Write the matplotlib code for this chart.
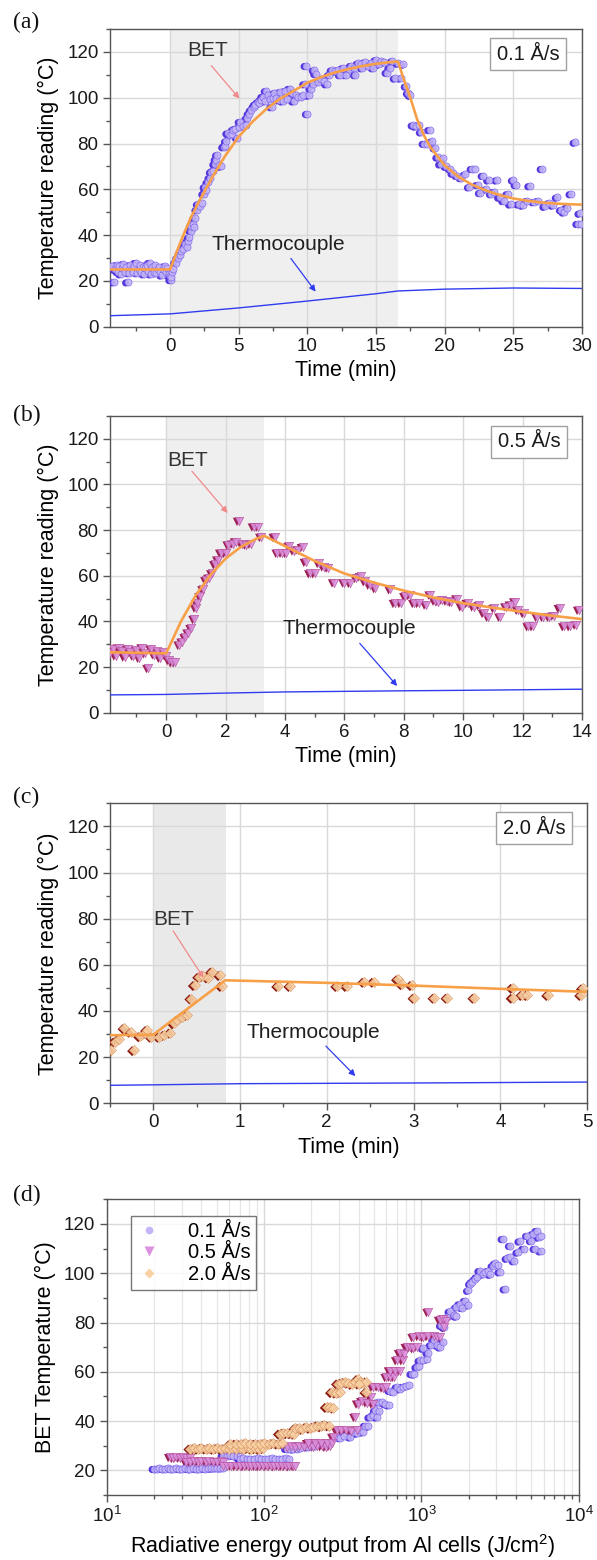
import matplotlib
matplotlib.use('Agg')
import matplotlib.pyplot as plt
from matplotlib import transforms
from matplotlib.ticker import MultipleLocator, LogLocator, NullFormatter, FixedLocator
from matplotlib.lines import Line2D

plt.rcParams['font.family'] = ['Liberation Sans', 'DejaVu Sans']
plt.rcParams['mathtext.fontset'] = 'custom'
plt.rcParams['mathtext.rm'] = 'Liberation Sans'
plt.rcParams['mathtext.it'] = 'Liberation Sans:italic'
plt.rcParams['mathtext.bf'] = 'Liberation Sans:bold'

# ---------------- Panel (a): 0.1 A/s ----------------
A_TIME = [-4.2, -4.1, -4.0, -3.9, -3.8, -3.7, -3.6, -3.5, -3.4, -3.3, -3.2, -3.1, -3.0, -2.9, -2.8,
          -2.7, -2.6, -2.5, -2.4, -2.3, -2.2, -2.1, -2.0, -1.9, -1.8, -1.7, -1.6, -1.5, -1.4, -1.3,
          -1.2, -1.1, -1.0, -0.9, -0.8, -0.7, -0.6, -0.5, -0.4, -0.3, -0.2, -0.1,
          0.0, 0.05, 0.1, 0.15, 0.2,
          0.4, 0.55, 0.7, 0.8, 0.95, 1.1, 1.2, 1.3, 1.4, 1.5, 1.55, 1.65, 1.75, 1.8, 1.95, 2.05, 2.15,
          2.3, 2.45, 2.55, 2.6, 2.75, 2.9, 3.0, 3.1, 3.25, 3.35, 3.45, 3.55, 3.7, 3.9, 4.0, 4.1, 4.2,
          4.35, 4.5, 4.6, 4.75, 4.9, 5.0, 5.1, 5.3, 5.5, 5.6, 5.75, 5.9, 6.1, 6.2, 6.4, 6.5, 6.6, 6.75,
          6.9, 7.0, 7.15, 7.3, 7.4, 7.5, 7.6, 7.75, 7.9, 8.0, 8.2, 8.4, 8.5, 8.7, 8.85, 9.0, 9.2, 9.35,
          9.5, 9.7, 9.8, 9.9, 10.0, 10.1, 10.25, 10.4, 10.5, 10.6, 10.8, 11.0, 11.2, 11.4, 11.6, 11.8,
          12.0, 12.2, 12.4, 12.6, 12.8, 13.0, 13.2, 13.4, 13.5, 13.7, 13.9, 14.0, 14.2, 14.4, 14.6,
          14.8, 15.0, 15.2, 15.4, 15.6, 15.8, 16.0, 16.2, 16.4, 16.6, 16.8, 17.0, 17.2, 17.35, 17.5,
          17.7, 17.9, 18.1, 18.3, 18.5, 18.7, 18.9, 19.1, 19.3, 19.5, 19.7, 19.9, 20.1, 20.4, 20.6,
          20.9, 21.2, 21.5, 21.8, 22.0, 22.2, 22.4, 22.6, 22.8, 23.0, 23.2, 23.4, 23.6, 23.8, 24.0,
          24.3, 24.6, 24.8, 25.0, 25.2, 25.4, 25.7, 26.0, 26.2, 26.5, 26.8, 27.1, 27.3, 27.6, 27.9,
          28.2, 28.5, 28.7, 28.9, 29.2, 29.5, 29.7, 29.85, 29.9]
A_TEMP = [26.5, 19.5, 25, 27, 24, 26.5, 23, 25.5, 27.5, 24, 26, 19.5, 23.5, 27, 25,
          24, 26.5, 28, 23.5, 25, 27, 24, 26, 23, 25.5, 27, 24.5, 28, 23, 26,
          24, 27, 23.5, 25, 26, 24, 22.5, 25, 26.5, 24, 25.5, 23,
          22, 20.5, 21.5, 24, 25,
          28, 30, 31.5, 33, 34, 36, 35, 37.5, 39, 42, 44, 45, 43.5, 47.5, 51, 53.5, 52.5,
          54, 58, 61, 59.5, 63, 65, 67.5, 68, 71, 73, 75, 70.5, 70, 78.5, 79, 81, 84.5,
          83.5, 84, 86, 86.5, 82.5, 87, 89.5, 87.5, 88, 91, 93, 94.5, 96, 97, 98, 97.5, 99, 100.5,
          98.5, 103, 101, 99.5, 96, 100, 102, 100, 99, 102.5, 98.5, 103, 99.5, 104, 102, 98.5, 101, 100.5,
          100.5, 101, 106, 114, 93, 101, 104, 106, 112, 110.5, 107, 108, 107.5, 106, 110, 112,
          111.5, 112, 110, 113, 110, 112.5, 114, 113, 110, 115, 114.5, 113, 115.5, 114, 115,
          113, 116.5, 114.5, 116, 115.5, 111, 113, 116, 108.5, 115, 108.5, 114.5, 105, 102, 101,
          88, 87.5, 88, 85, 80, 80, 86, 81, 78, 74, 71, 73.5, 70, 69, 67,
          66, 65, 66.5, 61, 69, 69, 62, 58.5, 66, 60, 64, 58, 59, 64, 56.5,
          55, 58, 53.5, 64, 62, 53.5, 53, 55, 61.5, 54.5, 55, 69, 52.5, 54, 53,
          56.5, 51, 50, 52, 58, 80.5, 45, 49.5, 45]
A_FIT_T = [-4.4, 0.0, 0.5, 1.0, 1.5, 2.0, 3.0, 4.0, 5.0, 6.0, 7.0, 8.0, 9.0, 10.0, 11.0, 12.0, 13.0,
           14.0, 15.0, 16.0, 16.6, 17.0, 17.5, 18.0, 18.5, 19.0, 20.0, 21.0, 22.0, 23.0, 24.0, 25.0,
           26.0, 27.0, 28.0, 29.0, 30.0]
A_FIT_Y = [25.0, 25.0, 33.0, 40.5, 47.5, 53.5, 64.5, 74.5, 83.0, 89.5, 95.0, 99.5, 103.0, 106.5, 109.0,
           111.0, 112.5, 113.8, 114.8, 115.5, 115.8, 108.5, 100.0, 90.5, 83.5, 78.0, 70.5, 65.5, 62.0,
           59.5, 57.5, 56.0, 55.0, 54.3, 53.8, 53.5, 53.3]
A_TC_T = [-4.4, 0.0, 5.0, 10.0, 15.0, 16.6, 20.0, 25.0, 30.0]
A_TC_Y = [4.8, 5.6, 8.2, 11.2, 14.4, 15.6, 16.4, 16.9, 16.7]

# ---------------- Panel (b): 0.5 A/s ----------------
B_TIME = [-1.9, -1.8, -1.7, -1.6, -1.5, -1.4, -1.3, -1.2, -1.1, -1.0, -0.9, -0.8, -0.7, -0.6, -0.5,
          -0.4, -0.3, -0.2, -0.1, 0.0, 0.1, 0.2, 0.3,
          0.45, 0.55, 0.65, 0.75, 0.85, 0.95, 1.0, 1.05, 1.15, 1.25, 1.35, 1.45, 1.55, 1.65, 1.75,
          1.85, 2.0, 2.1, 2.25, 2.35, 2.45, 2.55, 2.7, 2.85, 2.95, 3.1, 3.2,
          3.65, 3.75, 3.9, 4.05, 4.15, 4.3, 4.45, 4.6, 4.7, 4.85, 5.0, 5.15, 5.3, 5.45, 5.65, 6.0,
          6.2, 6.4, 6.55, 6.7, 6.85, 7.05, 7.55, 7.7, 7.9, 8.05, 8.2, 8.35, 8.5, 8.75, 8.9, 9.05,
          9.15, 9.3, 9.45, 9.6, 9.8, 9.95, 10.15, 10.35, 10.55, 10.7, 10.85, 11.05, 11.25, 11.45,
          11.6, 11.75, 11.85, 12.05, 12.2, 12.35, 12.5, 12.7, 12.9, 13.05, 13.25, 13.4, 13.6, 13.8, 13.9]
B_TEMP = [26, 28, 25, 28.5, 27, 24.5, 28, 26.5, 25, 27.5, 24, 28.5, 26, 19.5, 28,
          25.5, 27, 24, 26.5, 25, 23, 22, 22,
          29.7, 31, 33, 35, 37, 41, 46, 48, 51, 54, 58, 59, 61, 65, 67,
          70, 70, 73.6, 74, 75, 84, 74, 73.6, 74, 81.5, 81.5, 77,
          77, 70, 70, 70, 73, 71, 71.5, 72.5, 66, 61, 61, 65.5, 64, 63.5, 57, 57,
          56.8, 59, 59.7, 57.5, 56, 54.5, 54, 48, 48, 51, 51.5, 48, 48, 47.3, 51.7, 49,
          48.7, 49.5, 49, 48.5, 50, 46.5, 48, 46.5, 47, 43.6, 42, 45.8, 42, 46.5,
          47.3, 48.7, 45, 43.6, 37.8, 37.8, 42, 42, 42, 42.5, 45.8, 37.8, 37.8, 38.5, 45]
B_FIT_T = [-1.9, 0.0, 0.5, 1.0, 1.5, 2.0, 2.5, 3.0, 3.3, 4.0, 5.0, 6.0, 7.0, 8.0, 9.0, 10.0, 11.0,
           12.0, 13.0, 14.0]
B_FIT_Y = [26.5, 26.0, 40.0, 51.5, 60.5, 67.5, 72.5, 76.0, 77.5, 73.0, 66.5, 61.0, 57.0, 53.5, 50.5,
           48.0, 46.0, 44.2, 42.5, 41.0]
B_TC_T = [-1.9, 0.0, 2.0, 4.0, 8.0, 10.0, 14.0]
B_TC_Y = [7.8, 8.0, 8.6, 9.1, 9.6, 9.8, 10.3]

# ---------------- Panel (c): 2.0 A/s ----------------
C_TIME = [-0.48, -0.44, -0.39, -0.33, -0.26, -0.22, -0.15, -0.09, -0.07, -0.02,
          0.07, 0.13, 0.2, 0.24, 0.28, 0.33, 0.39, 0.44, 0.48, 0.53, 0.57, 0.63, 0.68, 0.77, 0.79,
          1.44, 1.58, 2.12, 2.23, 2.43, 2.54, 2.82, 2.87, 2.98, 3.01, 3.24, 3.39, 3.7, 4.14, 4.14,
          4.25, 4.31, 4.55, 4.95, 4.93]
C_TEMP = [23, 26.7, 28, 32.5, 31, 23, 29, 30.3, 31.7, 28.8,
          28.8, 29.6, 30.6, 34.6, 36, 37.2, 38.2, 45.4, 51.2, 54.8, 55, 54.5, 57, 55.5, 50.8,
          50.8, 50.8, 50.8, 50.8, 52.6, 52.6, 53.7, 51.6, 51.2, 45.7, 45.7, 45.7, 45.7, 50, 45.7,
          46.9, 46.9, 46.9, 49.8, 46.9]
C_FIT_T = [-0.5, 0.0, 0.83, 2.0, 3.0, 4.0, 5.0]
C_FIT_Y = [29.5, 29.7, 53.3, 52.2, 51.0, 49.6, 48.3]
C_TC_T = [-0.5, 0.0, 1.0, 3.0, 5.0]
C_TC_Y = [7.8, 8.0, 8.5, 8.8, 9.2]

# ---------------- Panel (d): BET temperature vs radiative energy ----------------
D01_E = [20, 20.8, 21.6, 22.5, 23.4, 24.4, 25.4, 26.5, 27.6, 28.8, 30, 31.3, 32.7, 34.1, 35.6, 37.2,
         38.8, 40.5, 42.3, 44.2, 46.2, 48.3, 50.5, 52.8, 55,
         55, 58, 61, 64, 67, 70,
         70, 74, 78, 82, 86, 91, 96, 101, 106, 112, 118, 124, 130, 137, 144,
         139, 146, 153, 161, 169,
         190, 210, 240, 262, 289, 305, 320, 354, 367, 390, 410, 425, 440, 460, 470, 495, 520, 510,
         540, 530, 560, 590, 620, 630, 660, 700, 730, 760, 800, 840, 870, 900, 935, 960, 980, 1030,
         1080, 1030, 1100, 1150, 1200, 1260, 1320, 1370, 1340, 1400, 1450, 1520, 1600, 1670, 1670,
         1750, 1820, 1900, 1980, 1990, 2050, 2100, 2190, 2250, 2350, 2450, 2550, 2640, 2740, 2850,
         2950, 3050, 3150, 3300, 3400, 3500, 3650, 3672, 3880, 4100, 4220, 4460, 4720, 4990, 5130,
         5270, 5420, 5580, 5730, 5750]
D01_T = [20.7, 20.6, 20.8, 20.7, 20.6, 20.8, 20.7, 20.6, 20.8, 20.7, 20.6, 20.8, 20.7, 20.6, 20.8, 20.7,
         20.6, 20.8, 20.7, 20.9, 20.8, 20.9, 21.0, 20.9, 21.0,
         26.0, 25.8, 26.2, 26.0, 25.8, 26.0,
         24.7, 24.9, 24.7, 24.8, 24.7, 24.9, 24.7, 24.8, 24.7, 24.9, 24.7, 24.8, 24.7, 24.9, 24.7,
         28.8, 28.8, 28.6, 28.8, 28.9,
         29.5, 30, 30.8, 31, 33.5, 33.2, 34, 33.5, 35.5, 35, 36.2, 35.5, 38.2, 37.8, 41.6, 42.5, 41.6, 44.3,
         44, 47.7, 47.7, 47, 46.5, 52.4, 52, 53.8, 53, 54, 54.2, 54.5, 59.2, 59, 61.9, 62.5, 64.6, 64.6,
         65, 69.5, 67.7, 70.8, 72.7, 70.8, 70, 72, 78.8, 78, 82.1, 84.5, 83, 82.5, 86.2,
         87.5, 86, 88.9, 87, 93, 95.7, 96.5, 97.5, 98.4, 101, 99.5, 100.5, 101, 99.5, 103,
         104, 103.5, 100.5, 114, 93.6, 106, 106.5, 111.2, 105, 108.5, 113, 110, 115.3, 113.2, 116,
         110, 117.3, 114.6, 109, 115.3]

D05_E = [25.3, 26.5, 27.8, 29.1, 30.5, 32, 33.8,
         32, 34, 36, 38, 40, 42.5, 45, 47.6, 50.3, 53.2, 55,
         55, 58, 62, 66, 70, 74.4, 79, 83, 88, 93, 98, 104, 110, 116, 123, 130, 137, 145, 153, 157,
         139, 148, 158, 168, 180, 192, 205, 218, 232, 247, 262,
         190, 210, 230, 250, 270,
         275, 290, 310, 330, 355, 388, 380, 395, 420, 450, 475, 491, 491, 530, 570, 600, 600, 635,
         670, 630, 680, 730, 700, 760, 730, 770, 805, 850, 890, 935, 890, 960, 1030, 1100, 1106,
         1200, 1250, 1310, 1310, 1380, 1440, 1400]
D05_T = [25.3, 25.0, 25.3, 25.1, 25.3, 25.0, 25.2,
         23.5, 23.2, 23.8, 23.5, 24.0, 23.4, 23.6, 23.2, 23.5, 23.8, 23.4,
         21.8, 21.6, 21.9, 21.7, 21.8, 21.6, 21.9, 21.7, 21.8, 21.6, 21.9, 21.7, 21.8, 21.6, 21.9,
         21.7, 21.8, 21.6, 21.9, 21.7,
         29.5, 29.8, 29.6, 30.0, 29.5, 29.8, 29.6, 30.0, 29.7, 29.5, 29.8,
         31.0, 31.3, 31.0, 31.3, 31.0,
         33.5, 36.2, 36.5, 36.2, 36.0, 36.5, 41.6, 47.0, 48.0, 47.5, 49.7, 47.0, 53.8, 54.0, 53.5,
         53.8, 57.8, 58.0, 57.8, 60.5, 60.5, 60.2, 64.6, 64.6, 67.5, 67.3, 70.0, 70.0, 69.5, 70.0,
         74.0, 74.4, 74.0, 74.4, 84.2, 74.4, 74.2, 74.0, 81.0, 81.5, 80.5, 78.0]

D20_E = [34, 36, 38, 40, 42.5, 45, 47.6, 50.3, 53.2, 56.3, 59.5, 63, 66.5, 70, 74, 78.6, 83, 88, 93, 99,
         61, 66, 71, 76, 82, 88, 94, 100, 107, 114, 122, 130,
         126, 133, 140, 148, 155,
         158, 166, 175, 185, 195, 205, 218, 230, 242, 257,
         250, 262, 275, 270, 285, 303,
         295, 310, 325, 340, 360, 380, 395, 405, 425, 447, 447, 400]
D20_T = [28.8, 28.9, 28.7, 29.0, 28.8, 28.9, 28.7, 29.0, 28.8, 28.9, 28.7, 29.0, 28.8, 28.9, 28.7,
         29.0, 28.8, 28.9, 28.7, 29.0,
         30.5, 30.8, 30.6, 30.9, 30.5, 30.8, 30.6, 30.9, 30.7, 31.0, 30.8, 31.0,
         34.9, 35.2, 35.0, 35.0, 34.8,
         37.0, 37.2, 36.8, 37.5, 37.2, 37.6, 38.2, 37.8, 38.4, 38.2,
         45.7, 45.7, 45.4, 51.7, 51.5, 51.7,
         55.2, 55.5, 55.8, 55.5, 55.0, 55.8, 57.0, 56.0, 55.5, 56.0, 51.7, 55.2]

RATE_LABELS = ['0.1 Å/s', '0.5 Å/s', '2.0 Å/s']

# ---------------- styling ----------------
W, H = 597, 1560
fig = plt.figure(figsize=(W / 100, H / 100), dpi=100)

SPINE = '#555555'
GRID = '#d9d9d9'
FIT = '#f7a048'
TC = '#2f3cf0'
BET_ARROW = '#f08a8a'

# (front fill, front edge, shadow)
CIRC = ('#c3b5f7', '#7a60ea', '#5536dc')
TRI = ('#dc92de', '#b452a0', '#9c1f52')
DIA = ('#fad1a4', '#d89a68', '#8a1810')


def ax_rect(left, top, right, bottom):
    return [left / W, 1 - bottom / H, (right - left) / W, (bottom - top) / H]


def style(ax):
    for s in ax.spines.values():
        s.set_color(SPINE)
        s.set_linewidth(1.0)
    ax.tick_params(which='both', direction='out', color=SPINE, labelsize=13.5,
                   labelcolor='#1a1a1a', width=1.0)
    ax.tick_params(which='major', length=5, pad=3)
    ax.tick_params(which='minor', length=3)
    ax.grid(which='major', color=GRID, lw=1.0, zorder=0.5)
    ax.set_axisbelow(True)


def two_tone(ax, x, y, marker, colors, size, zorder=3):
    front, edge, shadow = colors
    sh = transforms.offset_copy(ax.transData, fig=fig, x=-1.9, y=-0.9, units='dots')
    ax.scatter(x, y, s=size, marker=marker, c=shadow, edgecolors='none', transform=sh,
               zorder=zorder, clip_on=True)
    ax.scatter(x, y, s=size, marker=marker, c=front, edgecolors=edge, linewidths=0.5, alpha=0.9,
               zorder=zorder + 0.1, clip_on=True)


def time_panel(rect, xlim, major, minor, span_end, span_color, t, y, marker, colors, size,
               fit_t, fit_y, tc_t, tc_y, rate, box_xy, bet_txt, bet_arrow, tc_txt, tc_arrow, letter, letter_y):
    ax = fig.add_axes(rect)
    style(ax)
    ax.set_xlim(*xlim)
    ax.set_ylim(0, 130)
    ax.xaxis.set_major_locator(MultipleLocator(major))
    ax.xaxis.set_minor_locator(MultipleLocator(minor))
    ax.yaxis.set_major_locator(FixedLocator([0, 20, 40, 60, 80, 100, 120]))
    ax.yaxis.set_minor_locator(MultipleLocator(10))
    ax.axvspan(0, span_end, color=span_color, lw=0, zorder=0.2)
    two_tone(ax, t, y, marker, colors, size)
    ax.plot(fit_t, fit_y, color=FIT, lw=1.9, zorder=5, solid_capstyle='butt')
    ax.plot(tc_t, tc_y, color=TC, lw=1.0, zorder=5)
    ax.set_xlabel('Time (min)', fontsize=15.5, labelpad=4)
    ax.set_ylabel('Temperature reading (°C)', fontsize=15.5, labelpad=6)
    ax.text(box_xy[0], box_xy[1], rate, transform=ax.transAxes, ha='center', va='center',
            fontsize=14.5, color='#1a1a1a',
            bbox=dict(boxstyle='square,pad=0.32', fc='white', ec='#a0a0a0', lw=1.0), zorder=6)
    ax.text(bet_txt[0], bet_txt[1], 'BET', ha='center', va='center', fontsize=15, color='#333333', zorder=6)
    ax.annotate('', xy=bet_arrow[1], xytext=bet_arrow[0],
                arrowprops=dict(arrowstyle='-|>', color=BET_ARROW, lw=0.9, mutation_scale=9,
                                shrinkA=0, shrinkB=0), zorder=6)
    ax.text(tc_txt[0], tc_txt[1], 'Thermocouple', ha='center', va='center', fontsize=15,
            color='#1f1f1f', zorder=6)
    ax.annotate('', xy=tc_arrow[1], xytext=tc_arrow[0],
                arrowprops=dict(arrowstyle='-|>', color=TC, lw=0.9, mutation_scale=9,
                                shrinkA=0, shrinkB=0), zorder=6)
    fig.text(13 / W, 1 - letter_y / H, letter, family='Liberation Serif', fontsize=17,
             va='center', ha='left', color='#111111')
    return ax


time_panel(ax_rect(109.7, 29, 581.9, 326.7), (-4.4, 30), 5, 2.5, 16.6, '#efefef',
           A_TIME, A_TEMP, 'o', CIRC, 26,
           A_FIT_T, A_FIT_Y, A_TC_T, A_TC_Y, RATE_LABELS[0], (0.886, 0.915),
           (2.7, 120.5), ((3.0, 114), (5.05, 99.6)), (7.9, 36), ((8.8, 29.8), (10.6, 15.3)), '(a)', 22)

time_panel(ax_rect(109.7, 416, 581.9, 712.7), (-1.9, 14), 2, 1, 3.31, '#efefef',
           B_TIME, B_TEMP, 'v', TRI, 36,
           B_FIT_T, B_FIT_Y, B_TC_T, B_TC_Y, RATE_LABELS[1], (0.888, 0.913),
           (0.74, 110.5), ((0.87, 105.8), (2.07, 87.5)), (6.17, 37), ((6.52, 30.4), (7.78, 11.7)), '(b)', 415)

time_panel(ax_rect(109.7, 803.3, 587.2, 1103.3), (-0.5, 5), 1, 0.5, 0.84, '#e9e9e9',
           C_TIME, C_TEMP, 'D', DIA, 26,
           C_FIT_T, C_FIT_Y, C_TC_T, C_TC_Y, RATE_LABELS[2], (0.889, 0.917),
           (0.24, 79.8), ((0.23, 74.7), (0.58, 54.4)), (1.85, 30.6), ((1.99, 24.8), (2.33, 11.8)), '(c)', 797)

# ---------------- Panel (d) ----------------
axd = fig.add_axes(ax_rect(106.6, 1199.3, 578.8, 1495))
style(axd)
axd.set_xscale('log')
axd.set_xlim(10, 1e4)
axd.set_ylim(10, 130)
axd.xaxis.set_major_locator(LogLocator(base=10, numticks=10))
axd.xaxis.set_minor_locator(LogLocator(base=10, subs=[2, 3, 4, 5, 6, 7, 8, 9], numticks=20))
axd.xaxis.set_minor_formatter(NullFormatter())
axd.yaxis.set_major_locator(FixedLocator([20, 40, 60, 80, 100, 120]))
axd.yaxis.set_minor_locator(MultipleLocator(10))
axd.grid(which='minor', axis='x', color='#e6e6e6', lw=0.9, zorder=0.4)
two_tone(axd, D01_E, D01_T, 'o', CIRC, 26)
two_tone(axd, D05_E, D05_T, 'v', TRI, 36)
two_tone(axd, D20_E, D20_T, 'D', DIA, 26)
axd.set_xlabel('Radiative energy output from Al cells (J/cm$^2$)', fontsize=15.5, labelpad=4)
axd.set_ylabel('BET Temperature (°C)', fontsize=15.5, labelpad=6)
handles = [Line2D([], [], ls='none', marker='o', ms=5.5, mfc=CIRC[0], mec='none'),
           Line2D([], [], ls='none', marker='v', ms=6.5, mfc=TRI[0], mec='none'),
           Line2D([], [], ls='none', marker='D', ms=5, mfc=DIA[0], mec='none')]
leg = axd.legend(handles, RATE_LABELS, loc='upper left', bbox_to_anchor=(0.052, 0.944),
                 borderaxespad=0, fontsize=14.5, frameon=True, fancybox=False, edgecolor='#555555',
                 handlelength=1.2, handletextpad=1.3, labelspacing=0.12, borderpad=0.3)
leg.get_frame().set_linewidth(1.0)
fig.text(13 / W, 1 - 1195 / H, '(d)', family='Liberation Serif', fontsize=17,
         va='center', ha='left', color='#111111')

fig.savefig('out.png', dpi=100)
